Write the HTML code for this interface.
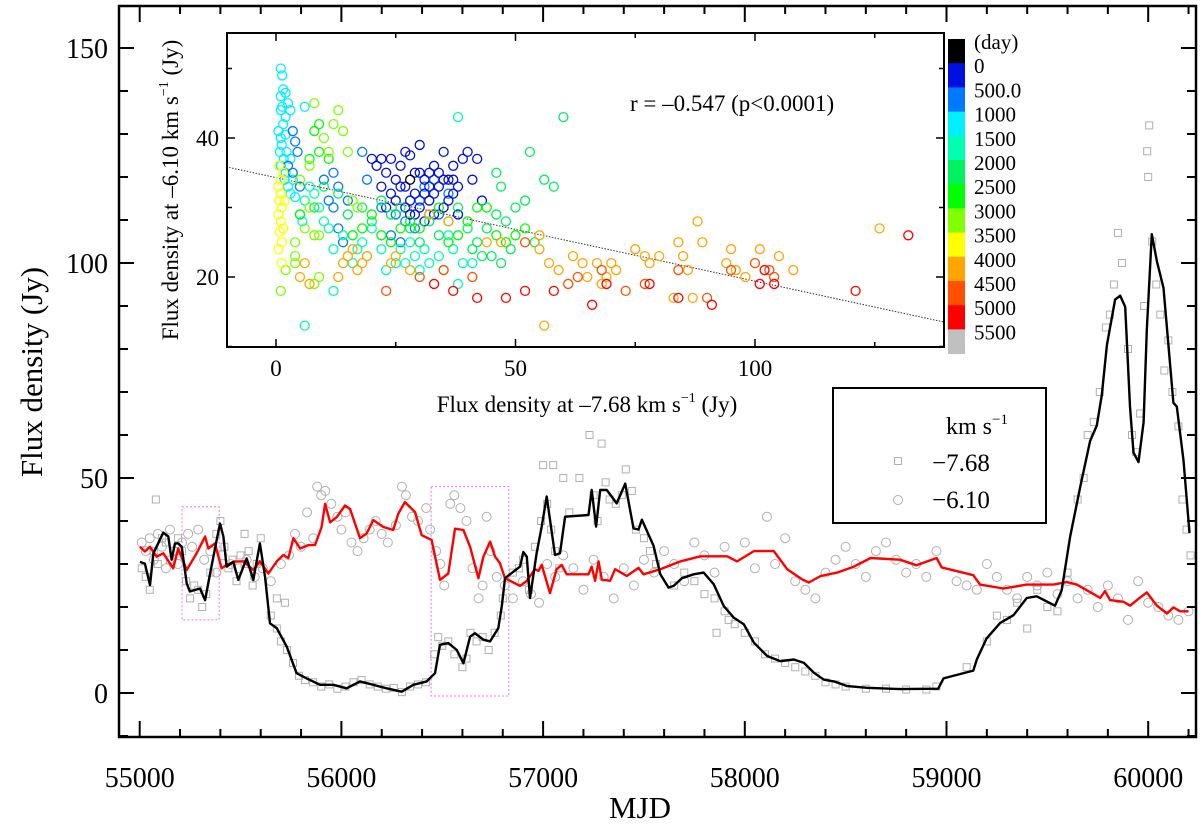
<!DOCTYPE html>
<html><head><meta charset="utf-8"><style>
html,body{margin:0;padding:0;background:#fff;}
svg{display:block;font-family:"Liberation Serif",serif;}
</style></head><body>
<svg id="chart" width="1200" height="825" viewBox="0 0 1200 825" xmlns="http://www.w3.org/2000/svg"></svg>
<script>
// ---------- main chart data ----------
const blackMJD=[55001,55026,55051,55068,55117,55142,55158,55175,55191,55208,55233,55249,55299,55324,55349,55382,55398,55415,55431,55464,55489,55530,55563,55596,55621,55646,55679,55729,55778,55828,55894,55960,56026,56092,56158,56224,56299,56357,56423,56464,56489,56530,56572,56605,56638,56662,56704,56737,56778,56795,56811,56886,56902,56919,56935,56968,56993,57018,57034,57059,57084,57109,57225,57241,57263,57283,57316,57365,57407,57448,57473,57490,57548,57581,57622,57647,57688,57746,57796,57846,57896,57946,57995,58045,58111,58177,58243,58293,58343,58392,58442,58508,58607,58773,58959,58985,59133,59150,59199,59266,59332,59398,59447,59538,59571,59613,59663,59712,59745,59770,59795,59836,59861,59886,59910,59927,59952,59977,59993,60018,60043,60076,60125,60142,60175,60205];
const blackVal=[30.5,30.1,25.1,32.5,37.3,36.4,31,34.8,34.8,34,25.5,23.6,24.3,21.6,27.8,35.6,39.4,36.4,29.4,30.5,26.3,31.3,26.3,34.8,27.1,16.2,15.1,10.8,4.6,3.4,1.9,1.9,1.1,2.7,1.9,1.1,0.3,1.9,2.7,4.6,11.2,11.6,10,6.9,13.1,13.9,12.4,12,15.1,20.2,26.7,29.4,32.8,31.7,22.1,32.5,38.7,45.7,40.3,32.1,32.5,41,41.4,47.2,38.7,47.2,47.2,44.1,48.7,38.3,38,40.3,34.2,27.6,24.5,24.9,26.7,27.6,28,25.3,20.2,17.5,16,11.7,8.6,7.4,7.8,7,4.7,3.1,2.7,1.6,1.2,0.9,1.0,3.4,5.2,7.8,12.7,16.3,18.1,22.1,22.5,20.3,23.9,36.3,47.9,58.6,62.2,69.3,80.9,91.5,92.4,89.8,66.6,55.9,53.7,63,84.4,106.7,100.4,94.2,67.5,66.6,54.1,37.2];
const redMJD=[55001,55026,55051,55084,55117,55166,55191,55233,55282,55307,55324,55340,55373,55406,55431,55472,55514,55563,55596,55638,55679,55712,55737,55762,55795,55836,55869,55902,55919,55944,55977,56018,56043,56092,56125,56158,56208,56257,56282,56315,56365,56398,56447,56489,56530,56563,56605,56638,56679,56704,56737,56762,56786,56811,56886,56919,56960,56977,56993,57034,57067,57092,57117,57225,57241,57258,57275,57291,57332,57357,57415,57473,57498,57581,57680,57780,57912,57962,58045,58144,58210,58285,58318,58376,58458,58541,58624,58769,58852,58951,58976,59133,59166,59282,59398,59530,59596,59646,59729,59762,59786,59811,59878,59911,59944,59993,60043,60093,60125,60158,60200];
const redVal=[34,32.9,34,31.7,32.5,29,33.6,28.6,32.5,34.8,36.4,33.6,34.8,29,29.8,30.6,30.6,28.6,30.6,27.8,30.6,32.1,31.4,36,33.6,34.4,34.4,38.6,44,39.7,40.9,43.6,42.8,36,37.1,40.2,38.6,37.9,41.7,44.4,42.1,36.7,35.6,26.3,27.8,38.2,37.9,34,26.7,31.7,35.2,31.7,30.2,26.7,24.9,26.1,28.8,28.4,29.8,23.2,28.8,29.8,27.6,27.6,29.4,26.1,30.6,26.4,26.1,28.8,27.2,29.1,27.6,28.8,30.6,31.8,31.8,30.6,33,33,28.8,26.4,25.7,27.2,28,29.4,31.4,31,29.7,31.4,29.2,27.4,25.2,24.3,25.2,25.2,25.8,25.2,23,22.1,23.7,21.6,21.2,20.3,21.6,23.4,20.3,18.5,19.9,19,19];
const sqMJD=[55010,55030,55050,55070,55090,55110,55130,55150,55170,55190,55210,55230,55250,55270,55290,55310,55330,55350,55380,55400,55420,55440,55460,55480,55500,55520,55540,55560,55580,55600,55080,55520,55650,55680,55700,55730,55760,55790,55820,55860,55900,55940,55980,56020,56060,56100,56140,56180,56220,56260,56300,56340,56380,56420,55680,55720,56460,56480,56500,56530,56560,56600,56620,56640,56670,56700,56730,56760,56790,56800,56850,56880,56900,56930,56960,56990,57000,57020,57040,57060,57080,57100,57130,57180,57230,57250,57270,57290,57310,57330,57360,57390,57410,57440,57460,57500,57530,57560,57050,57650,57700,57750,57800,57850,57900,57950,58000,58050,58100,58150,58200,58250,58300,58350,58400,58450,58500,58600,58700,58800,58900,58950,57860,57920,59100,59200,59250,59300,59350,59400,59450,59500,59550,59600,59650,59680,59700,59730,59760,59790,59810,59830,59850,59870,59900,59920,59940,59960,59980,60000,59995,60005,60020,60040,60060,60080,60100,60120,60150,60170,60190,60210];
const sqVal=[29,27,24,33,30,36,35,31,33,36,33,26,22,25,24,20,23,28,37,40,34,29,31,26,32,30,33,25,30,36,45,37,18,15,12,10,7,4,3,2.5,1.5,2,1,1.5,2.5,3,2,1.5,1,1.2,0.2,1.5,2,2.5,22,21,9,13,11,12,9,6,8,14,12,13,10,14,18,22,28,29,31,24,34,40,53,44,38,33,29,50,42,50,60,46,40,58,49,45,44,46,52,47,38,36,33,30,53,25,28,26,23,22,19,16,14,12,9,8,7,6,5,4,2.5,2,1.5,1,1,0.8,0.8,1.5,14,17,6,12,18,17,21,15,24,20,19,28,45,50,60,63,70,85,88,95,107,100,80,60,56,65,90,120,126,132,105,95,88,75,82,70,62,45,38,32];
const ciMJD=[55010,55030,55050,55070,55090,55110,55130,55150,55170,55190,55210,55240,55260,55290,55320,55350,55380,55410,55450,55490,55530,55570,55610,55650,55700,55740,55770,55800,55830,55860,55880,55900,55920,55950,55980,56000,56020,56050,56080,56110,56140,56170,56200,56230,56270,56300,56320,56350,56380,56420,56440,56470,56490,56510,56540,56560,56590,56620,56650,56680,56700,56720,56740,56770,56810,56850,56900,56940,56980,57020,57060,57100,57150,57200,57250,57300,57350,57400,57450,57500,57550,57600,57650,57700,57750,57800,57850,57900,58000,58050,58110,58150,58200,58250,58300,58350,58400,58450,58500,58550,58600,58650,58700,58750,58800,58850,58900,58950,59050,59100,59150,59200,59250,59300,59350,59400,59450,59500,59550,59600,59650,59700,59750,59800,59850,59900,59950,60000,60050,60100,60150,60200];
const ciVal=[35,33,36,31,37,34,29,38,33,30,35,37,34,38,31,33,28,32,30,29,31,27,29,26,30,32,37,34,42,36,48,46,47,44,41,38,42,35,33,36,38,40,37,35,39,48,46,41,40,43,38,33,30,25,44,46,43,40,29,22,25,41,33,27,25,22,26,23,21,30,27,32,29,24,31,27,22,29,25,31,28,33,30,26,35,32,28,34,35,29,41,30,36,26,24,22,28,31,34,30,27,33,35,31,28,30,27,33,26,25,24,30,27,24,22,27,25,28,23,26,22,24,20,25,22,17,26,21,20,18,17,19];
const yTicks=[0,50,100,150];
const xTicks=[55000,56000,57000,58000,59000,60000];
// ---------- inset data ----------
const insetX=[1,1.3,1.5,1,2,2.5,1,2,3,1.5,0.5,1,2,1.2,0.8,2.2,1.6,3,1,2,3.5,2.5,3,4,1.8,5.5,6,1.3, 3.5,4,4.5,2.5,3.5,5,12,13,12,13,14,15,10,11,18,19,22,24,27,30,31,33,29,26,25,34,36, 20,21,22,23,24,25,26,27,28,29,30,31,32,33,34,35,36,37,38,39,40,41,42,43,27,28,29,30,31,32,33,34,35,36,37,38,25,26,24,22,23,33,31,28,35,37,32,30,27,29, 5,6,7,8,9,10,11,12,14,16,17,18,19,20,22,23,25,26,27,28,29,30,31,32,34,35,36,37,12,38,39,41,38,6, 8,10,13,15,18,20,22,24,26,28,30,32,34,36,38,40,42,44,46,48,50,52,54,56,45,43,41,47,49,53,58,60,47,46, 16,18,20,22,24,26,28,30,32,34,36,38,40,42,44,46,48,50,52,7,9,11,8,9,5, 4,4,5,6,7,8,9,10,11,12,13,14,15,8,7,2,1,4,8,9,16,17, 0.5,1,0.7,1.2,0.5,1,1.5,0.8,1.2,0.5,1,1.5,0.6,1.8,1.2, 5,6,7,13,14,15,16,17,18,19,24,25,28,32,36,44,47,55,57,59,62,64,65,67,70,75,77,78,80,84,85,86,88,89,94,95,96,98,101,105,108,126,56,83,87,68,69,71,55, 23,30,35,61,63,68,73,77,84,90,95,100,103,104,52,41, 33,37,42,48,52,58,66,69,78,84,91,101,102,104,121,132, 28];
const insetY=[50,49,47,46,46.5,45,44,43,44,42,41,40,40.5,39,38,38,37,37,36,35,34,33,32,31.5,34,28,44.5,44.5, 41,39.5,38,36,35,33,35,33,30,27,25,31,34,31,38,34,30,26,28,31,33,34,27,25,29,29,32, 37,36,37,35,37,34,36,38,37.5,35,39,34,33,36,35,38,34,36,33,37,38,34,37,31,33,31,32,30,32,31,32,33,30,31,32,29,31,33,32,33,30,29,28,29,34,34,35,35,30,29, 29,31,33,32,30,28,27,24,26,22,24,25,23,27,24,21,22,24,22,25,23,21,24,22,23,21,26,24,18,43,22,22,19,13, 30,33,32,29,30,28,31,29,30,27,25,28,26,28,30,27,25,27,29,28,30,31,25,34,23,23,24,22,24,38,33,43,33,35, 26,27,29,26,25,27,28,27,29,30,25,26,28,30,30,26,25,26,27,37,38,37,41,42,29, 25,23,34,27,30,26,26,40,38,42,44,41,38,45,36,21,18,22,19,20,31,30, 33,32,31,30,29,28,27,26.5,25,24,34,35,36,31,22, 20,22,19,20,22,23,24,21,22,23,22,23,21,29,28,25,25,24,22,21,23,22,20,22,22,24,23,22,23,25,23,21,28,25,22,24,21,20,24,23,21,27,13,17,17,19,20,21,26, 18,20,21,19,20,21,18,19,21,17,21,22,21,20,25,20, 19,18,17,17,18,18,16,19,19,17,16,19,21,19,18,26, 34];
const insetClass=[3,3,3,3,3,3,3,3,3,3,3,3,3,3,3,3,3,3,3,3,3,3,3,3,3,3,3,3, 2,2,2,2,2,2,2,2,2,2,2,2,2,2,2,2,2,2,2,2,2,2,2,2,2,2,2, 1,1,1,1,1,1,1,1,1,1,1,1,1,1,1,1,1,1,1,1,1,1,1,1,1,1,1,1,1,1,1,1,1,1,1,1,1,1,1,1,1,1,1,1,1,1,1,1,1,1, 4,4,4,4,4,4,4,4,4,4,4,4,4,4,4,4,4,4,4,4,4,4,4,4,4,4,4,4,4,4,4,4,4,4, 5,5,5,5,5,5,5,5,5,5,5,5,5,5,5,5,5,5,5,5,5,5,5,5,5,5,5,5,5,5,5,5,5,5, 6,6,6,6,6,6,6,6,6,6,6,6,6,6,6,6,6,6,6,6,6,6,6,6,6, 7,7,7,7,7,7,7,7,7,7,7,7,7,7,7,7,7,7,7,7,7,7, 8,8,8,8,8,8,8,8,8,8,8,8,8,8,8, 9,9,9,9,9,9,9,9,9,9,9,9,9,9,9,9,9,9,9,9,9,9,9,9,9,9,9,9,9,9,9,9,9,9,9,9,9,9,9,9,9,9,9,9,9,9,9,9,9, 10,10,10,10,10,10,10,10,10,10,10,10,10,10,10,10, 11,11,11,11,11,11,11,11,11,11,11,11,11,11,11,11, 0];
const classColors=["#000000","#0010e0","#0078ff","#00f0ff","#00ffb0","#00f060","#00ff00","#80ff00","#ffff00","#ffa500","#ff5000","#ff0000","#c0c0c0"];
const cbLabels=["(day)","0","500.0","1000","1500","2000","2500","3000","3500","4000","4500","5000","5500"];
const insetXTicks=[0,50,100];
const insetYTicks=[20,40];
const fitIntercept=34.3, fitSlope=-0.149;

// ---------- helpers ----------
const NS="http://www.w3.org/2000/svg";
const svg=document.getElementById('chart');
function el(tag,attrs,parent){const e=document.createElementNS(NS,tag);for(const k in attrs)e.setAttribute(k,attrs[k]);(parent||svg).appendChild(e);return e;}
// main axes
const X0=119,X1=1196,Y0=6,Y1=737;
const xs=m=>139.7+(m-55000)*0.2017;
const ys=v=>693-v*4.3;
// inset axes
const IX0=227,IX1=944,IY0=33,IY1=347;
const ixs=v=>276+v*4.79;
const iys=v=>416-v*6.95;

// clip
const defs=el('defs',{});
const cp=el('clipPath',{id:'mainclip'},defs);el('rect',{x:X0,y:Y0,width:X1-X0,height:Y1-Y0},cp);
const cp2=el('clipPath',{id:'insetclip'},defs);el('rect',{x:IX0,y:IY0,width:IX1-IX0,height:IY1-IY0},cp2);

const gMain=el('g',{'clip-path':'url(#mainclip)'});



// highlight boxes
const b1=el('rect',{x:xs(55210),y:ys(43.3),width:xs(55394)-xs(55210),height:ys(17)-ys(43.3),fill:'none',stroke:'#f070f0','stroke-width':1,'stroke-dasharray':'2,2'},gMain);


const b2=el('rect',{x:xs(56445),y:ys(48),width:xs(56830)-xs(56445),height:ys(-0.7)-ys(48),fill:'none',stroke:'#f070f0','stroke-width':1,'stroke-dasharray':'2,2'},gMain);



// scatter squares
for(let i=0;i<sqMJD.length;i++){
  const r=el('rect',{x:xs(sqMJD[i])-3.5,y:ys(sqVal[i])-3.5,width:7,height:7,fill:'none',stroke:'#b0b0b0','stroke-width':1},gMain);
  
  
}
for(let i=0;i<ciMJD.length;i++){
  const c=el('circle',{cx:xs(ciMJD[i]),cy:ys(ciVal[i]),r:4.5,fill:'none',stroke:'#b0b0b0','stroke-width':1},gMain);
  
  
}
// lines
let d='';for(let i=0;i<redMJD.length;i++)d+=(i?'L':'M')+xs(redMJD[i]).toFixed(1)+','+ys(redVal[i]).toFixed(1);
const rl=el('path',{d:d,fill:'none',stroke:'#ff0000','stroke-width':2.4,'stroke-linejoin':'round'},gMain);


d='';for(let i=0;i<blackMJD.length;i++)d+=(i?'L':'M')+xs(blackMJD[i]).toFixed(1)+','+ys(blackVal[i]).toFixed(1);
const bl=el('path',{d:d,fill:'none',stroke:'#000','stroke-width':2.4,'stroke-linejoin':'round'},gMain);



// main frame and ticks
const fr=el('rect',{x:X0,y:Y0,width:X1-X0,height:Y1-Y0,fill:'none',stroke:'#000','stroke-width':2.5});


const gT=el('g',{stroke:'#000','stroke-width':2});
for(let m=55000;m<=60200;m+=200){const L=(m%1000===0)?16:8;const x=xs(m);
  el('line',{x1:x,y1:Y1,x2:x,y2:Y1-L},gT);el('line',{x1:x,y1:Y0,x2:x,y2:Y0+L},gT);}
for(let v=-10;v<=150;v+=10){const L=(v%50===0)?15:9;const y=ys(v);
  el('line',{x1:X0,y1:y,x2:X0+L,y2:y},gT);el('line',{x1:X1,y1:y,x2:X1-L,y2:y},gT);}
xTicks.forEach(m=>{const t=el('text',{x:xs(m),y:787,'text-anchor':'middle','font-size':28});t.textContent=m;
  
  });
yTicks.forEach(v=>{const t=el('text',{x:108,y:ys(v)+10,'text-anchor':'end','font-size':28});t.textContent=v;
  
  });
const xt=el('text',{x:640,y:818,'text-anchor':'middle','font-size':31});xt.textContent='MJD';


const yt=el('text',{x:0,y:0,'text-anchor':'middle','font-size':31,transform:'translate(42,372) rotate(-90)'});yt.textContent='Flux density (Jy)';



// legend
const lg=el('g',{});


el('rect',{x:833,y:388,width:213,height:135,fill:'#fff',stroke:'#000','stroke-width':2},lg);
const lt=el('text',{x:946,y:434,'font-size':24},lg);lt.innerHTML='km s<tspan dy="-10" font-size="15">−1</tspan>';


const ls=el('rect',{x:894.5,y:457.5,width:7,height:7,fill:'none',stroke:'#b0b0b0','stroke-width':1},lg);


const l1=el('text',{x:932,y:471,'font-size':25},lg);l1.textContent='−7.68';


const lc=el('circle',{cx:898,cy:500,r:4.5,fill:'none',stroke:'#b0b0b0','stroke-width':1},lg);


const l2=el('text',{x:932,y:508,'font-size':25},lg);l2.textContent='−6.10';



// ---------- inset ----------
const gI=el('g',{});


el('rect',{x:IX0,y:IY0,width:IX1-IX0,height:IY1-IY0,fill:'#fff'},gI);
const gIp=el('g',{'clip-path':'url(#insetclip)'},gI);
const fit=el('line',{x1:ixs(-11),y1:iys(fitIntercept+fitSlope*-11),x2:ixs(140),y2:iys(fitIntercept+fitSlope*140),stroke:'#333','stroke-width':1,'stroke-dasharray':'1.5,1.5'},gIp);


for(let i=0;i<insetX.length;i++){
  const c=el('circle',{cx:ixs(insetX[i]),cy:iys(insetY[i]),r:4.5,fill:'none',stroke:classColors[insetClass[i]],'stroke-width':1.3},gIp);
  
  
}
el('rect',{x:IX0,y:IY0,width:IX1-IX0,height:IY1-IY0,fill:'none',stroke:'#000','stroke-width':2},gI);
const gIt=el('g',{stroke:'#000','stroke-width':1.5},gI);
for(let v=0;v<=125;v+=25){const L=(v%50===0)?8:5;const x=ixs(v);
  el('line',{x1:x,y1:IY1,x2:x,y2:IY1-L},gIt);el('line',{x1:x,y1:IY0,x2:x,y2:IY0+L},gIt);}
for(let v=10;v<=50;v+=10){const L=(v%20===0)?8:5;const y=iys(v);
  el('line',{x1:IX0,y1:y,x2:IX0+L,y2:y},gIt);el('line',{x1:IX1,y1:y,x2:IX1-L,y2:y},gIt);}
insetXTicks.forEach(v=>{const t=el('text',{x:ixs(v),y:376,'text-anchor':'middle','font-size':23},gI);t.textContent=v;
  
  });
insetYTicks.forEach(v=>{const t=el('text',{x:219,y:iys(v)+8,'text-anchor':'end','font-size':23},gI);t.textContent=v;
  
  });
const ixt=el('text',{x:587,y:412,'text-anchor':'middle','font-size':23},gI);
ixt.innerHTML='Flux density at –7.68 km s<tspan dy="-10" font-size="14">−1</tspan><tspan dy="10"> (Jy)</tspan>';


const iyt=el('text',{x:0,y:0,'text-anchor':'middle','font-size':23,transform:'translate(178,190) rotate(-90)'},gI);
iyt.innerHTML='Flux density at –6.10 km s<tspan dy="-10" font-size="14">−1</tspan><tspan dy="10"> (Jy)</tspan>';


const rt=el('text',{x:630,y:111,'font-size':23},gI);rt.textContent='r = –0.547 (p<0.0001)';


// colorbar
const cbH=24.2;
for(let k=0;k<classColors.length;k++){
  const s=el('rect',{x:948,y:39+k*cbH,width:17,height:cbH+0.5,fill:classColors[k]},gI);
  
  
}
cbLabels.forEach((lab,i)=>{const t=el('text',{x:974,y:39+i*cbH+10,'font-size':21},gI);t.textContent=lab;
  
  });
</script>
</body></html>
